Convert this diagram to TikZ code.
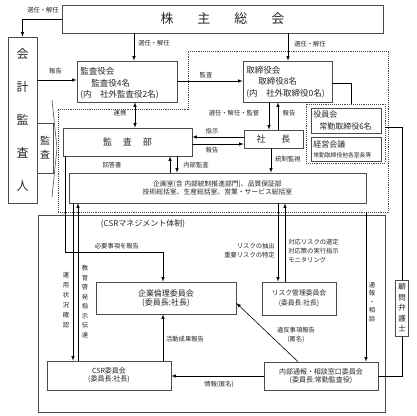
\documentclass[tikz,border=0pt]{standalone}
\usepackage{fontspec}
\setmainfont{Noto Sans CJK JP}
\usepackage{tikz}
\usetikzlibrary{positioning}

\begin{document}
\begin{tikzpicture}
        [x=1pt,y=-1pt,>=latex,line width=.6pt,
         every node/.style={text=black!85},
         box/.style={draw=black!70,rectangle,inner sep=0pt},
         txt/.style={inner sep=0pt,font=\fontsize{8.5}{11.5}\selectfont},
         lbl/.style={inner sep=0pt,font=\fontsize{6.3}{9}\selectfont},
         tate/.style={inner sep=0pt,align=center,font=\fontsize{6.3}{10}\selectfont}]
        \fill[white] (0,0) rectangle (416,416);
        \useasboundingbox (0,0) rectangle (416,416);

        % groups
        \draw[black!70,densely dotted,line width=.9pt] (188,51) -- (388,51) -- (388,212) -- (58,212) -- (58,109) -- (188,109) -- cycle;
        \node[draw=black!70,densely dotted,line width=.9pt,minimum width=79pt,minimum height=59pt] (yakuin) at (345.5,133.5) {};
        \node[box,minimum width=347pt,minimum height=197pt] (csrframe) at (211.5,313.5) {};
        \node[inner sep=0pt,font=\fontsize{8}{9}\selectfont] (csrtitle) at (143,224) {(CSRマネジメント体制)};

        % boxes
        \node[box,minimum width=321pt,minimum height=28pt,font=\fontsize{13}{13}\selectfont] (kabunushi) at (222.5,19) {株\hspace{24pt}主\hspace{24pt}総\hspace{24pt}会};
        \node[box,minimum width=29pt,minimum height=166pt,align=center,font=\fontsize{12}{33}\selectfont] (kaikei) at (22.5,120) {会\\計\\監\\査\\人};
        \node[box,minimum width=16pt,minimum height=50pt,align=center,font=\fontsize{10}{14}\selectfont] (kansa) at (45,148) {監\\査};
        \draw[black!70] (52,100) -- (57,148) -- (52,197);

        \node[box,minimum width=100pt,minimum height=41pt] (kansayakukai) at (127,81.5) {};
        \node[txt,anchor=west,align=left] (kansayakukai-t) at (80,83.5) {監査役会\\\hspace{11pt}監査役4名\\(内　社外監査役2名)};
        \node[box,minimum width=89pt,minimum height=41pt] (torishimari) at (287.5,81.5) {};
        \node[txt,anchor=west,align=left] (torishimari-t) at (246,82) {取締役会\\\hspace{12pt}取締役8名\\(内　社外取締役0名)};

        \node[box,minimum width=59pt,minimum height=18pt,font=\fontsize{9}{9}\selectfont] (shacho) at (273.5,139) {社\hspace{16pt}長};
        \node[box,minimum width=129pt,minimum height=28pt,font=\fontsize{9}{9}\selectfont] (kansabu) at (127.5,142) {監\hspace{11pt}査\hspace{11pt}部};
        \node[box,minimum width=70pt,minimum height=25pt] (yakuinkai) at (346,120.5) {};
        \node[txt,anchor=west,align=left,font=\fontsize{8}{12}\selectfont] (yakuinkai-t) at (313,120) {役員会\\\hspace{6pt}常勤取締役6名};
        \node[box,minimum width=70pt,minimum height=24pt] (keiei) at (346,149) {};
        \node[txt,anchor=west,font=\fontsize{8}{8}\selectfont] (keiei-t) at (313,144) {経営会議};
        \node[txt,anchor=west,font=\fontsize{5.8}{6}\selectfont] (keiei-s) at (313,155) {常勤取締役他各室長等};

        \node[box,minimum width=297pt,minimum height=30pt,align=center,font=\fontsize{6.8}{7.5}\selectfont] (kikaku) at (217.5,188) {企画室(含 内部統制推進部門)、品質保証部\\技術総括室、生産総括室、営業・サービス総括室};

        \node[box,minimum width=140pt,minimum height=32pt,align=center,font=\fontsize{8}{9}\selectfont] (rinri) at (166,298) {企業倫理委員会\\(委員長:社長)};
        \node[box,minimum width=74pt,minimum height=33pt,align=center,font=\fontsize{6.8}{9.5}\selectfont] (risk) at (299,298.5) {リスク管理委員会\\(委員長:社長)};
        \node[box,minimum width=124pt,minimum height=29pt,align=center,font=\fontsize{7}{8}\selectfont] (csr) at (109,375.5) {CSR委員会\\(委員長:社長)};
        \node[box,minimum width=114pt,minimum height=28pt,align=center,font=\fontsize{7}{8.5}\selectfont] (naibu) at (321,376) {内部通報・相談窓口委員会\\(委員長:常勤監査役)};
        \node[box,minimum width=13pt,minimum height=56pt,align=center,font=\fontsize{7.5}{10.5}\selectfont] (komon) at (402,308) {顧\\問\\弁\\護\\士};

        % connectors
        \draw[->] (kabunushi.west) -| (kaikei.north);
        \foreach \x/\from/\to in {134/kabunushi/kansayakukai, 288/kabunushi/torishimari, 269/torishimari/shacho,
                                  271/shacho/kikaku, 177/kansabu/kikaku, 73/kikaku/csr, 278/kikaku/risk}
            \draw[->] (\from.south -| \x,0) -- (\to.north -| \x,0);
        \foreach \x/\from/\to in {278/shacho/torishimari, 170/kikaku/kansabu, 78/csr/kikaku, 285/risk/kikaku, 163/csr/rinri}
            \draw[->] (\from.north -| \x,0) -- (\to.south -| \x,0);
        \foreach \y/\from/\to in {80/kaikei/kansayakukai, 81/kansayakukai/torishimari, 144/kansabu/shacho}
            \draw[->] (\from.east |- 0,\y) -- (\to.west |- 0,\y);
        \foreach \y/\from/\to in {137/shacho/kansabu, 376/naibu/csr}
            \draw[->] (\from.west |- 0,\y) -- (\to.east |- 0,\y);
        \draw[<->] (kansayakukai.south -| 135,0) -- (kansabu.north -| 135,0);
        \draw[->] (kansabu.south -| 65,0) |- (163,252) -- (rinri.north -| 163,0);
        \draw[->] (naibu.north -| 298,0) -- (rinri.east |- 0,303);
        \coordinate (tsuho) at (366,212);
        \draw[->] (tsuho) -- (naibu.north -| tsuho);
        \draw (torishimari.east |- 0,83) -| (yakuin.north -| 351,0);
        \draw (yakuin.east |- 0,127) -| (komon.north);
        \draw (komon.south) |- (naibu.east);

        % labels
        \node[lbl] (l-senin1) at (43,10) {選任・解任};
        \node[lbl] (l-senin2) at (154,43) {選任・解任};
        \node[lbl] (l-senin3) at (310,44) {選任・解任};
        \node[lbl] (l-hokoku1) at (55.5,71) {報告};
        \node[lbl] (l-kansa) at (206,75) {監査};
        \node[lbl] (l-renkei) at (120,113) {連携};
        \node[lbl] (l-senin4) at (234,113) {選任・解任・監督};
        \node[lbl] (l-hokoku2) at (289,113) {報告};
        \node[lbl] (l-shiji) at (212,131) {指示};
        \node[lbl] (l-hokoku3) at (212,150) {報告};
        \node[lbl] (l-tosei) at (288,159) {統制監視};
        \node[lbl] (l-kaito) at (112,165) {回答書};
        \node[lbl] (l-naibukansa) at (196,165) {内部監査};
        \node[lbl] (l-hitsuyo) at (117,246) {必要事項を報告};
        \node[lbl,anchor=east,align=right] (l-risk1) at (275,250.5) {リスクの抽出\\重要リスクの特定};
        \node[lbl,anchor=west,align=left] (l-risk2) at (288,251) {対応リスクの選定\\対応策の実行指示\\モニタリング};
        \node[tate] (l-unyo) at (66,300) {運\\用\\状\\況\\確\\認};
        \node[tate,font=\fontsize{6.3}{9.5}\selectfont] (l-kyoiku) at (85,301.5) {教\\育\\啓\\発\\指\\示\\伝\\達};
        \node[tate,font=\fontsize{6.3}{8.5}\selectfont] (l-tsuho) at (372,302) {通\\報\\・\\相\\談};
        \node[lbl] (l-katsudo) at (185,339) {活動成果報告};
        \node[lbl,align=center] (l-ihan) at (296,334.5) {違反事項報告\\(匿名)};
        \node[lbl] (l-joho) at (219,384) {情報(匿名)};

      \end{tikzpicture}
\end{document}
